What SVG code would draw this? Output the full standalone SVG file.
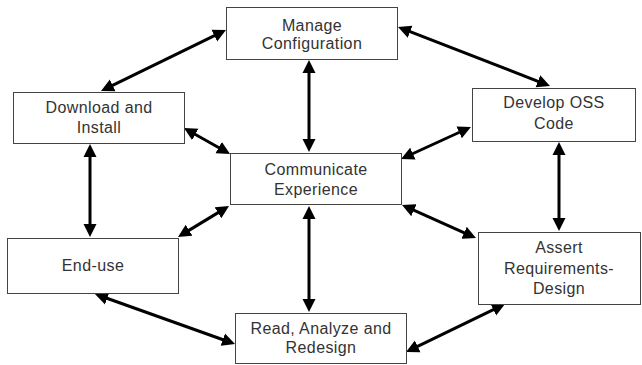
<svg xmlns="http://www.w3.org/2000/svg" width="642" height="365" viewBox="0 0 642 365">
  <style>
    .box { fill: #ffffff; stroke: #444444; stroke-width: 1; }
    .label { font-family: "Liberation Sans", Arial, sans-serif; font-size: 16px; letter-spacing: 0.4px; fill: #333333; text-anchor: middle; }
    .link { stroke: #000000; stroke-width: 3; fill: none; marker-start: url(#head); marker-end: url(#head); }
  </style>
  <defs>
    <marker id="head" markerUnits="userSpaceOnUse" markerWidth="14" markerHeight="14" viewBox="0 -7 14 14" refX="7" refY="0" orient="auto-start-reverse">
      <path d="M0,-6.5 L13,0 L0,6.5 Z" fill="#000000"/>
    </marker>
  </defs>
  <rect width="642" height="365" fill="#ffffff"/>

  <g id="connectors">
    <line class="link" x1="220.6" y1="32.6" x2="106.4" y2="88.4"/>
    <line class="link" x1="403.6" y1="29.2" x2="544.4" y2="83.8"/>
    <line class="link" x1="309" y1="66" x2="309" y2="146"/>
    <line class="link" x1="189.2" y1="131" x2="224.8" y2="151"/>
    <line class="link" x1="465.5" y1="129.5" x2="406.5" y2="156.5"/>
    <line class="link" x1="90" y1="150" x2="90" y2="231"/>
    <line class="link" x1="223.9" y1="209.1" x2="183.1" y2="233.9"/>
    <line class="link" x1="309" y1="212" x2="309" y2="306"/>
    <line class="link" x1="407.5" y1="207.4" x2="470.5" y2="235.6"/>
    <line class="link" x1="559" y1="148" x2="559" y2="225"/>
    <line class="link" x1="100.6" y1="296" x2="229.4" y2="342"/>
    <line class="link" x1="411.4" y1="349.4" x2="499.6" y2="306.6"/>
  </g>

  <g id="manage-configuration">
    <rect class="box" x="226.5" y="7.5" width="171" height="52"/>
    <text class="label" x="312" y="31">Manage</text>
    <text class="label" x="312" y="49">Configuration</text>
  </g>

  <g id="download-install">
    <rect class="box" x="13.5" y="92.5" width="171" height="51"/>
    <text class="label" x="99" y="113">Download and</text>
    <text class="label" x="99" y="133">Install</text>
  </g>

  <g id="develop-oss-code">
    <rect class="box" x="472.5" y="88.5" width="163" height="53"/>
    <text class="label" x="554" y="108">Develop OSS</text>
    <text class="label" x="554" y="129">Code</text>
  </g>

  <g id="communicate-experience">
    <rect class="box" x="230.5" y="153.5" width="171" height="51"/>
    <text class="label" x="316" y="175">Communicate</text>
    <text class="label" x="316" y="195">Experience</text>
  </g>

  <g id="end-use">
    <rect class="box" x="7.5" y="238.5" width="171" height="55"/>
    <text class="label" x="93" y="271">End-use</text>
  </g>

  <g id="read-analyze-redesign">
    <rect class="box" x="235.5" y="313.5" width="171" height="50"/>
    <text class="label" x="321" y="334">Read, Analyze and</text>
    <text class="label" x="321" y="353">Redesign</text>
  </g>

  <g id="assert-requirements-design">
    <rect class="box" x="478.5" y="232.5" width="162" height="72"/>
    <text class="label" x="559" y="253">Assert</text>
    <text class="label" x="559" y="274">Requirements-</text>
    <text class="label" x="559" y="294">Design</text>
  </g>
</svg>
